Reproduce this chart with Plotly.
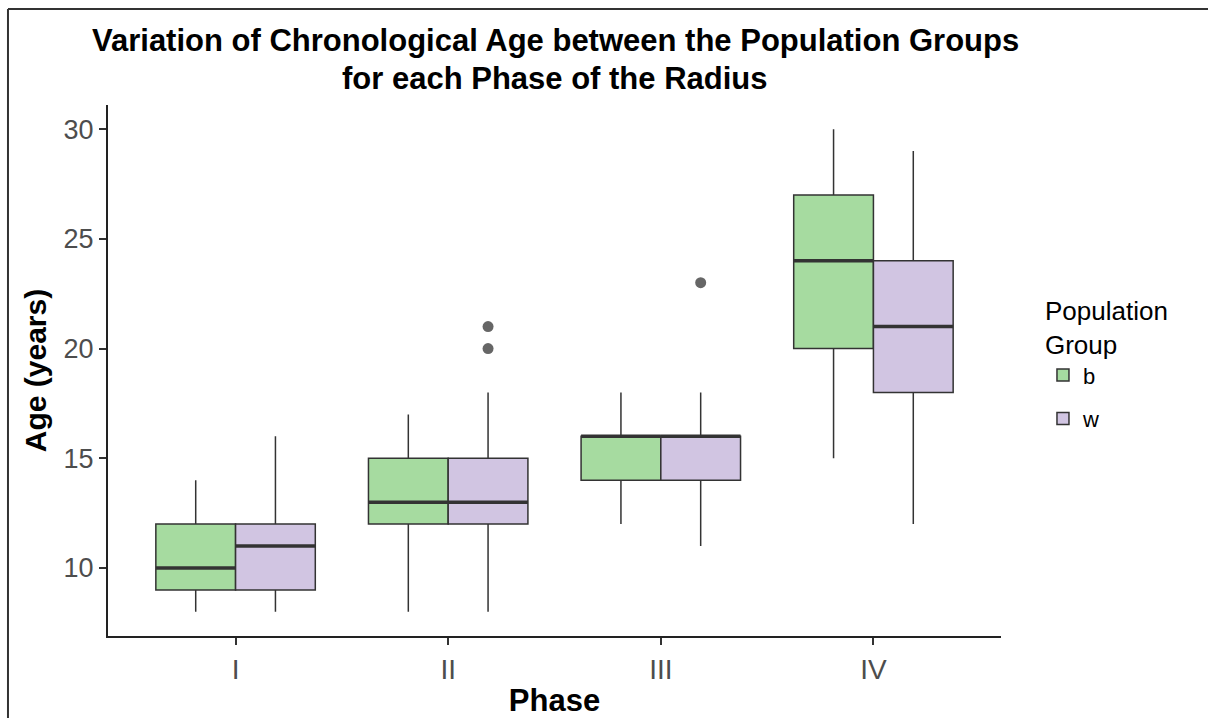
import plotly.graph_objects as go

phases = ["I", "II", "III", "IV"]
groups = ["b", "w"]
colors = {"b": "#A6DBA0", "w": "#D1C5E2"}

title_lines = ["Variation of Chronological Age between the Population Groups",
               "for each Phase of the Radius"]

# five-number summaries per group, one entry per phase
lower = {"b": [8, 8, 12, 15], "w": [8, 8, 11, 12]}
q1 = {"b": [9, 12, 14, 20], "w": [9, 12, 14, 18]}
median = {"b": [10, 13, 16, 24], "w": [11, 13, 16, 21]}
q3 = {"b": [12, 15, 16, 27], "w": [12, 15, 16, 24]}
upper = {"b": [14, 17, 18, 30], "w": [16, 18, 18, 29]}

# outliers: (phase, value)
outliers = {"b": [], "w": [("II", 20), ("II", 21), ("III", 23)]}

W = 0.375
offsets = {"b": -W / 2, "w": W / 2}
pos = {p: i + 1 for i, p in enumerate(phases)}

fig = go.Figure()
for g in groups:
    xs = [pos[p] + offsets[g] for p in phases]
    fig.add_trace(go.Box(
        name=g, x=xs, q1=q1[g], median=median[g], q3=q3[g],
        lowerfence=lower[g], upperfence=upper[g],
        width=W, whiskerwidth=0, boxpoints=False,
        fillcolor=colors[g], line=dict(color="#333333", width=1.5),
        legendgroup=g, hoverinfo="skip",
    ))
    # thicker median line (ggplot fatten)
    mx, my = [], []
    for x, m in zip(xs, median[g]):
        mx += [x - W / 2, x + W / 2, None]
        my += [m, m, None]
    fig.add_trace(go.Scatter(x=mx, y=my, mode="lines",
                             line=dict(color="#333333", width=3.5),
                             showlegend=False, hoverinfo="skip"))
    if outliers[g]:
        fig.add_trace(go.Scatter(
            x=[pos[p] + offsets[g] for p, v in outliers[g]],
            y=[v for p, v in outliers[g]], mode="markers",
            marker=dict(color="rgba(51,51,51,0.75)", size=11),
            showlegend=False, hoverinfo="skip"))

annotations = [
    dict(text="<b>%s</b>" % title_lines[0], xref="paper", yref="paper",
         x=0.5006, y=1.1224, xanchor="center", yanchor="middle", showarrow=False,
         borderpad=0, font=dict(size=31, color="black")),
    dict(text="<b>%s</b>" % title_lines[1], xref="paper", yref="paper",
         x=0.5006, y=1.0508, xanchor="center", yanchor="middle", showarrow=False,
         borderpad=0, font=dict(size=31, color="black")),
]

fig.update_layout(
    width=1208, height=718,
    margin=dict(l=108, r=207, t=105, b=82),
    paper_bgcolor="white", plot_bgcolor="white",
    font=dict(family="Liberation Sans, Arial, sans-serif"),
    annotations=annotations,
    showlegend=True,
    legend=dict(title=dict(text="Population<br>Group", font=dict(size=26, color="black")),
                x=1.047, y=0.658, xanchor="left", yanchor="top",
                font=dict(size=22, color="black"), tracegroupgap=12),
    shapes=[
        dict(type="line", xref="paper", yref="paper", x0=-0.112, x1=1.3, y0=1.181, y1=1.181,
             line=dict(color="#333333", width=2)),
        dict(type="line", xref="paper", yref="paper", x0=-0.112, x1=-0.112, y0=-0.3, y1=1.181,
             line=dict(color="#333333", width=2)),
    ],
)
fig.update_xaxes(range=[0.4, 4.6], tickvals=[pos[p] for p in phases], ticktext=phases,
                 automargin=False,
                 showline=True, linecolor="#222222", linewidth=2, showgrid=False, zeroline=False,
                 ticks="outside", ticklen=7, tickcolor="#333333", tickwidth=1.5,
                 tickfont=dict(size=28, color="#4D4D4D"),
                 title=dict(text="<b>Phase</b>", font=dict(size=31, color="black"), standoff=8))
fig.update_yaxes(range=[6.9, 31.1], tickvals=[10, 15, 20, 25, 30],
                 automargin=False,
                 showline=True, linecolor="#222222", linewidth=2, showgrid=False, zeroline=False,
                 ticks="outside", ticklen=7, tickcolor="#333333", tickwidth=1.5,
                 tickfont=dict(size=27, color="#4D4D4D"),
                 title=dict(text="<b>Age (years)</b>", font=dict(size=30, color="black"), standoff=8))

fig.write_html("out.html")
